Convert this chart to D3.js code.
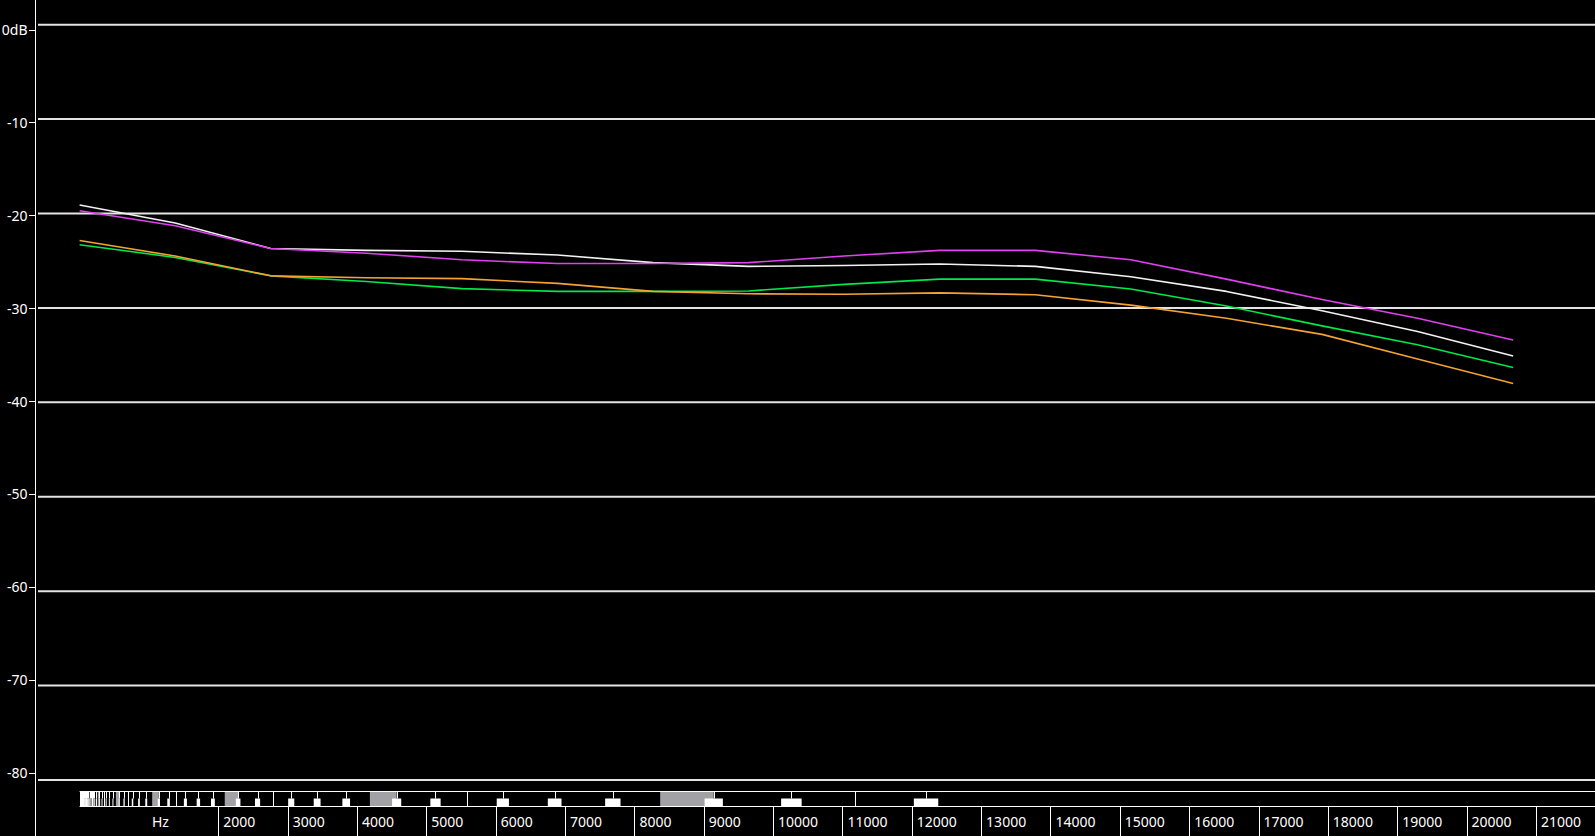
<!DOCTYPE html>
<html>
<head>
<meta charset="utf-8">
<script src="https://cdn.jsdelivr.net/npm/d3@7/dist/d3.min.js"></script>
<style>
  html, body { margin: 0; padding: 0; background: #000; overflow: hidden; }
  svg { display: block; }
  text { font-family: "Noto Sans", "Open Sans", sans-serif; font-size: 14px; fill: #fff; }
</style>
</head>
<body>
<svg id="chart" width="1595" height="836"></svg>
<script>
// ---- data ----
const freqs = [0, 1378, 2756, 4134, 5513, 6891, 8269, 9647, 11025, 12403, 13781, 15159, 16538, 17916, 19294, 20672];
const whiteSeries   = [-19.1, -21.0, -23.7, -23.9, -24.0, -24.4, -25.2, -25.6, -25.5, -25.35, -25.6, -26.7, -28.25, -30.3, -32.5, -35.1];
const greenSeries   = [-23.3, -24.65, -26.6, -27.2, -27.95, -28.25, -28.25, -28.2, -27.5, -26.95, -26.95, -28.0, -29.8, -31.9, -33.9, -36.3];
const orangeSeries  = [-22.85, -24.5, -26.6, -26.8, -26.9, -27.4, -28.25, -28.5, -28.55, -28.4, -28.6, -29.7, -31.1, -32.8, -35.4, -38.0];
const magentaSeries = [-19.7, -21.3, -23.7, -24.2, -24.9, -25.3, -25.3, -25.2, -24.5, -23.9, -23.9, -24.9, -26.95, -29.1, -31.1, -33.4];
const seriesColors = ["#f2f2f2", "#00e84a", "#f4a232", "#e040f0"];

const dbTicks = [0, -10, -20, -30, -40, -50, -60, -70, -80];
const dbLabels = ["0dB", "-10", "-20", "-30", "-40", "-50", "-60", "-70", "-80"];
const hzTicks = [2000, 3000, 4000, 5000, 6000, 7000, 8000, 9000, 10000, 11000, 12000,
                 13000, 14000, 15000, 16000, 17000, 18000, 19000, 20000, 21000];
const hzLabels = hzTicks.map(String);
const unitLabel = "Hz";
const unitPos = 1000;

// keyboard (MIDI notes 0..127) for the band strip
const midiLow = 0, midiHigh = 127;

// ---- scales ----
const W = 1595, H = 836;
const x = d3.scaleLinear().domain([0, 21000]).range([79.6, 1535.9]);
const y = d3.scaleLinear().domain([0, -80]).range([24.7, 780]);
const yLab = d3.scaleLinear().domain([0, -80]).range([29.5, 772.5]);

const svg = d3.select("#chart");
svg.append("rect").attr("width", W).attr("height", H).attr("fill", "#000");

// gridlines
svg.append("g").selectAll("line").data(dbTicks).join("line")
  .attr("x1", 38).attr("x2", W)
  .attr("y1", d => y(d)).attr("y2", d => y(d))
  .attr("stroke", "#e4e4e4").attr("stroke-width", 2);

// y axis line
svg.append("line").attr("x1", 35.5).attr("x2", 35.5).attr("y1", 0).attr("y2", H)
  .attr("stroke", "#fff").attr("stroke-width", 1);

// y ticks & labels
const yg = svg.append("g");
yg.selectAll("line").data(dbTicks).join("line")
  .attr("x1", 29).attr("x2", 35)
  .attr("y1", d => Math.round(yLab(d)) + 0.5).attr("y2", d => Math.round(yLab(d)) + 0.5)
  .attr("stroke", "#fff").attr("stroke-width", 1);
yg.selectAll("text").data(dbTicks).join("text")
  .attr("x", 27.5).attr("y", d => yLab(d) + 5.5)
  .attr("text-anchor", "end")
  .text((d, i) => dbLabels[i]);

// series lines
const allSeries = [whiteSeries, greenSeries, orangeSeries, magentaSeries];
const line = d3.line().x((d, i) => x(freqs[i])).y(d => y(d));
svg.append("g").selectAll("path").data(allSeries).join("path")
  .attr("d", d => line(d))
  .attr("fill", "none")
  .attr("stroke", (d, i) => seriesColors[i])
  .attr("stroke-width", 1.6)
  .attr("stroke-linejoin", "round");

// ---- keyboard strip ----
const kTop = 791.5, kMid = 798.5, kBot = 806.5;
const noteF = m => 440 * Math.pow(2, (m - 69) / 12);
const notes = d3.range(midiLow, midiHigh + 1);
const isBlack = m => [1, 3, 6, 8, 10].includes(m % 12);
const kb = svg.append("g");
// grey C keys
kb.selectAll("rect.c").data(notes.filter(m => m % 12 === 0)).join("rect")
  .attr("class", "c")
  .attr("x", m => x(noteF(m)))
  .attr("width", m => x(noteF(m + 1) + 0.52 * (noteF(m + 2) - noteF(m + 1))) - x(noteF(m)))
  .attr("y", kTop).attr("height", kBot - kTop)
  .attr("fill", "#a2a2a6");
// top / bottom lines
kb.append("line").attr("x1", x(0)).attr("x2", W).attr("y1", kTop).attr("y2", kTop)
  .attr("stroke", "#fff").attr("stroke-width", 1);
kb.append("line").attr("x1", x(0)).attr("x2", W).attr("y1", kBot).attr("y2", kBot)
  .attr("stroke", "#fff").attr("stroke-width", 1);
// ticks above black keys
kb.selectAll("line.t").data(notes.filter(isBlack)).join("line")
  .attr("class", "t")
  .attr("x1", m => Math.round(x(noteF(m) + 0.52 * (noteF(m + 1) - noteF(m)))) + 0.5)
  .attr("x2", m => Math.round(x(noteF(m) + 0.52 * (noteF(m + 1) - noteF(m)))) + 0.5)
  .attr("y1", kTop).attr("y2", kMid)
  .attr("stroke", "#fff").attr("stroke-width", 1);
// full-height E/F lines
kb.selectAll("line.f").data(notes.filter(m => m % 12 === 5)).join("line")
  .attr("class", "f")
  .attr("x1", m => Math.round(x(noteF(m))) + 0.5)
  .attr("x2", m => Math.round(x(noteF(m))) + 0.5)
  .attr("y1", kTop).attr("y2", kBot)
  .attr("stroke", "#fff").attr("stroke-width", 1);
// black keys (drawn white)
kb.selectAll("rect.b").data(notes.filter(isBlack)).join("rect")
  .attr("class", "b")
  .attr("x", m => x(noteF(m) + 0.27 * (noteF(m + 1) - noteF(m))))
  .attr("width", m => Math.max(1, x(noteF(m) + 0.77 * (noteF(m + 1) - noteF(m))) - x(noteF(m) + 0.27 * (noteF(m + 1) - noteF(m)))))
  .attr("y", kMid).attr("height", kBot - kMid)
  .attr("fill", "#fff");

// ---- frequency label row ----
const xg = svg.append("g");
xg.selectAll("line").data(hzTicks).join("line")
  .attr("x1", d => Math.round(x(d)) + 0.5).attr("x2", d => Math.round(x(d)) + 0.5)
  .attr("y1", kBot).attr("y2", H)
  .attr("stroke", "#fff").attr("stroke-width", 1);
xg.selectAll("text").data(hzTicks).join("text")
  .attr("x", d => x(d) + 5).attr("y", 826.5)
  .text((d, i) => hzLabels[i]);
xg.append("text").attr("x", x(unitPos) + 3).attr("y", 826.5).text(unitLabel);
</script>
</body>
</html>
